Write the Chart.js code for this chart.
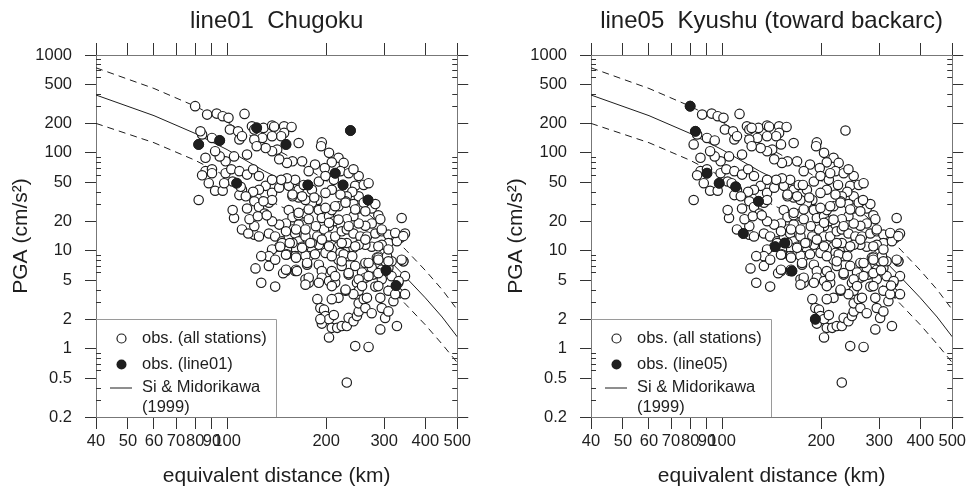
<!DOCTYPE html>
<html>
<head>
<meta charset="utf-8">
<script src="https://cdn.jsdelivr.net/npm/chart.js@4.4.0/dist/chart.umd.min.js"></script>
<style>
  html, body { margin: 0; padding: 0; background: #fff; overflow: hidden; }
  .panel { position: absolute; top: 0; width: 474px; height: 491px; }
</style>
</head>
<body>
<div class="panel" style="left:0"><canvas id="chart-line01"></canvas></div>
<div class="panel" style="left:495px"><canvas id="chart-line05"></canvas></div>
<script>
// ---- data: [equivalent distance (km), PGA (cm/s2)] ----
var allStations = [
  [87,246],[93,252],[97,237],[101,228],[113,250],[84,154],[90,142],[102,173],
  [108,166],[109,137],[119,187],[121,173],[129,180],[137,190],[139,185],[149,187],[157,184],[149,160],
  [146,148],[137,148],[128,142],[121,137],[111,148],[165,126],[194,128],[193,117],[204,100],[218,89],
  [226,79],[208,80],[198,70],[185,76],[177,65],[169,82],[158,82],[152,79],[144,86],[142,108],
  [137,104],[131,112],[123,117],[115,96],[105,92],[99,82],[95,92],[92,104],[86,89],[86,65],
  [90,68],[84,59],[88,49],[92,41],[97,41],[104,51],[99,62],[103,68],[109,65],[115,60],
  [120,68],[125,58],[131,46],[137,39],[125,42],[120,40],[111,42],[109,37],[114,36],[121,32],
  [125,28],[130,24],[134,31],[137,33],[144,44],[154,46],[161,53],[152,55],[146,53],[137,53],
  [165,42],[171,47],[181,42],[190,51],[199,58],[211,53],[221,65],[234,62],[251,58],[242,68],
  [245,46],[260,47],[269,49],[251,36],[240,40],[231,36],[208,42],[199,39],[188,33],[181,31],
  [173,33],[165,35],[158,36],[154,26],[158,22],[165,23],[173,24],[177,21],[165,18.5],[158,16.5],
  [151,19],[144,18.5],[137,20],[134,15],[140,14],[147,12.5],[154,14],[161,15],[165,12.5],[173,14],
  [169,11],[161,10.7],[152,10.3],[144,11],[137,10.3],[134,8.8],[127,8.8],[121,14.6],[125,14],[121,17.8],
  [111,16.5],[117,21],[105,21.6],[104,26],[115,27],[124,22.5],[132,23],[82,33],[190,26],[194,21.6],
  [204,22.5],[208,26],[218,28.5],[229,32],[242,30],[251,27],[260,31],[275,27],[282,30],[288,23],
  [292,21],[275,19],[263,18],[251,19],[242,22.5],[231,21],[221,18.5],[211,20],[204,17.8],[197,16.5],
  [204,14],[213,14],[223,15.8],[231,16.5],[242,15],[254,14],[266,14],[282,15],[295,15.8],[309,14.6],
  [309,12],[295,11.5],[275,11],[263,11.5],[251,11.5],[242,10.7],[231,12],[218,11],[208,10.3],[199,11],
  [190,11.5],[188,14],[181,12],[181,9.9],[177,8.8],[199,9.5],[221,9.5],[234,8.8],[285,8.5],[306,7.5],
  [343,7.8],[339,21.6],[347,15],[335,13.5],[328,12.5],
  [122,6.6],[127,4.7],[134,7],[140,4.3],[140,8.1],[151,6.2],[148,5.9],[161,6.2],[173,5.1],[177,4.7],
  [175,7.2],[161,8.8],[152,9.2],[173,8.9],[190,7.2],[194,6.2],[194,5.3],[204,4.9],[208,6.2],[213,4.7],
  [218,8.1],[223,7],[234,5.7],[226,9.2],[240,8.8],[245,7],[248,4.7],[257,6],[263,5.3],[251,3.9],
  [242,3.6],[229,3.9],[218,3.3],[208,3.2],[188,3.2],[192,2.6],[197,2.5],[199,2.15],[194,1.8],[204,2],
  [211,2.2],[208,1.63],[204,1.3],[216,1.63],[223,1.7],[231,1.7],[234,2.06],[242,1.9],[248,2.15],[251,2.4],
  [251,2.9],[260,3.2],[266,3.3],[263,2.6],[282,4.3],[295,5.1],[278,5.7],[295,6.4],[309,6.7],[316,5.5],
  [331,4.7],[347,5.5],[309,3.9],[320,3.05],[331,3.7],[347,3.6],[288,8.5],[302,7.8],[316,7.8],[343,7.8],
  [306,8.8],[275,2.3],[292,3.3],[295,2.6],[302,2.06],[309,2.4],[328,1.7],[292,1.57],[245,1.06],[269,1.04],
  [231,0.45],[208,8.8],[185,9.2],[263,7.5],[275,6.7],
  [158,37.5],[169,36],[184,35],[221,37.5],[165,24.4],[177,26.4],[199,27.4],[213,28.5],[229,31],[245,26.4],
  [263,25.3],[151,15.8],[162,16.5],[173,16.5],[186,17.8],[204,19.3],[218,20.8],[234,17.8],[295,16.5],[324,15.2],
  [343,14.1],[147,12],[158,12],[169,10.7],[179,12],[194,13],[204,11.1],[223,12],[245,11.1],[263,13],
  [288,11.1],[309,10.3],[151,9.1],[162,8.5],[175,7.5],[223,7.8],[269,7.5],[288,8.1],[309,7.8],[339,8.1],
  [151,6.4],[162,6.4],[177,5.3],[213,5.5],[234,5.9],[251,5.1],[269,5.5],[288,5.9],[332,4.9],[288,4.35],
  [257,4.35],[229,4.0],[208,4.35],[190,4.7],[173,4.5],[324,3.6]
];

var line01Stations = [
  [82,122],[95,134],[123,180],[151,122],[107,49],[176,47],[213,62],[225,47],[237,169],[268,33],[304,6.3],[326,4.4]
];

var line05Stations = [
  [80,300],[83,166],[90,62],[98,49],[110,45],[129,32],[116,15],[145,11],[155,12],[163,6.2],[192,2.0]
];

// Si & Midorikawa (1999) curve and its +/- bounds
var curveDist  = [40, 60, 80, 100, 130, 150, 200, 250, 300, 350, 400, 450, 500];
var curveMid   = [390, 240, 158, 108, 65, 51, 27, 15.5, 9, 5.3, 3.3, 2.1, 1.32];
var curveUpper = [740, 455, 300, 205, 124, 97, 52, 29.5, 17.1, 10.1, 6.3, 4.0, 2.5];
var curveLower = [200, 127, 84, 57, 34.5, 27, 14.3, 8.2, 4.8, 2.8, 1.75, 1.11, 0.72];

var xTicks = [40, 50, 60, 70, 80, 90, 100, 200, 300, 400, 500];
var yTicks = [0.2, 0.5, 1, 2, 5, 10, 20, 50, 100, 200, 500, 1000];
var yMinor = [0.3, 0.4, 0.6, 0.7, 0.8, 0.9, 3, 4, 6, 7, 8, 9, 30, 40, 60, 70, 80, 90, 300, 400, 600, 700, 800, 900];

var FONT = '"Liberation Sans", Arial, Helvetica, sans-serif';
var INK = '#1e1e1e';

function toXY(pairs) {
  return pairs.map(function(p) { return {x: p[0], y: p[1]}; });
}
function curve(vals) {
  return curveDist.map(function(d, i) { return {x: d, y: vals[i]}; });
}

// short inward minor ticks on both y sides
var minorTicks = {
  id: 'minorTicks',
  afterDraw: function(chart) {
    var ctx = chart.ctx, a = chart.chartArea, y = chart.scales.y;
    ctx.save();
    ctx.strokeStyle = '#333';
    ctx.lineWidth = 1;
    ctx.beginPath();
    yMinor.forEach(function(v) {
      var p = Math.round(y.getPixelForValue(v)) + 0.5;
      ctx.moveTo(a.left, p); ctx.lineTo(a.left + 5, p);
      ctx.moveTo(a.right, p); ctx.lineTo(a.right - 5, p);
    });
    ctx.stroke();
    ctx.restore();
  }
};

// boxed legend in the lower left corner
var boxLegend = {
  id: 'boxLegend',
  afterDraw: function(chart, args, opts) {
    var ctx = chart.ctx, a = chart.chartArea;
    var left = a.left, top = Math.round(chart.scales.y.getPixelForValue(2)) + 0.5;
    ctx.save();
    ctx.strokeStyle = '#9a9a9a';
    ctx.lineWidth = 1;
    ctx.beginPath();
    ctx.moveTo(left, top);
    ctx.lineTo(left + 180.5, top);
    ctx.lineTo(left + 180.5, a.bottom);
    ctx.stroke();

    ctx.font = '16.5px ' + FONT;
    ctx.textBaseline = 'middle';
    ctx.textAlign = 'left';

    ctx.strokeStyle = INK;
    ctx.lineWidth = 1.2;
    ctx.beginPath();
    ctx.arc(left + 25.5, top + 19, 4.5, 0, Math.PI * 2);
    ctx.fillStyle = '#fff';
    ctx.fill();
    ctx.stroke();
    ctx.fillStyle = INK;
    ctx.fillText('obs. (all stations)', left + 46, top + 19);

    ctx.beginPath();
    ctx.arc(left + 25.5, top + 45, 5, 0, Math.PI * 2);
    ctx.fill();
    ctx.fillText(opts.name, left + 46, top + 45);

    ctx.lineWidth = 1;
    ctx.beginPath();
    ctx.moveTo(left + 14, top + 68.5);
    ctx.lineTo(left + 36, top + 68.5);
    ctx.stroke();
    ctx.fillText('Si & Midorikawa', left + 46, top + 68);
    ctx.fillText('(1999)', left + 46, top + 88);
    ctx.restore();
  }
};

function makeChart(id, title, hiName, hiPoints) {
  var el = document.getElementById(id);
  // every station is drawn open; the highlighted line is drawn filled on top
  var openPoints = allStations.concat(line01Stations, line05Stations);
  return new Chart(el, {
    type: 'scatter',
    data: {
      datasets: [
        {
          label: hiName,
          data: toXY(hiPoints),
          order: 0,
          pointRadius: 5,
          pointBackgroundColor: INK,
          pointBorderColor: INK,
          pointBorderWidth: 1
        },
        {
          label: 'obs. (all stations)',
          data: toXY(openPoints),
          order: 1,
          pointRadius: 4.7,
          pointBackgroundColor: '#fff',
          pointBorderColor: INK,
          pointBorderWidth: 1.2
        },
        {
          label: 'Si & Midorikawa (1999)',
          data: curve(curveMid),
          order: 2,
          showLine: true,
          pointRadius: 0,
          borderColor: INK,
          borderWidth: 1,
          tension: 0
        },
        {
          label: 'upper',
          data: curve(curveUpper),
          order: 3,
          showLine: true,
          pointRadius: 0,
          borderColor: INK,
          borderWidth: 1,
          borderDash: [7, 5],
          tension: 0
        },
        {
          label: 'lower',
          data: curve(curveLower),
          order: 4,
          showLine: true,
          pointRadius: 0,
          borderColor: INK,
          borderWidth: 1,
          borderDash: [7, 5],
          tension: 0
        }
      ]
    },
    options: {
      responsive: true,
      maintainAspectRatio: false,
      animation: false,
      layout: { padding: 0 },
      plugins: {
        legend: { display: false },
        tooltip: { enabled: false },
        boxLegend: { name: hiName }
      },
      scales: {
        x: {
          type: 'logarithmic',
          position: 'bottom',
          min: 40, max: 500,
          afterBuildTicks: function(s) { s.ticks = xTicks.map(function(v) { return {value: v}; }); },
          afterFit: function(s) { s.height = 74; },
          ticks: {
            autoSkip: false, maxRotation: 0, minRotation: 0, padding: 3,
            color: INK, font: { family: FONT, size: 16.5 },
            callback: function(v) { return String(v); }
          },
          grid: { drawOnChartArea: false, tickLength: 12, color: '#333', lineWidth: 1 },
          border: { display: true, color: '#777', width: 1 },
          title: {
            display: true, text: 'equivalent distance (km)', color: INK,
            font: { family: FONT, size: 21 }, padding: { top: 0, bottom: 2 }
          }
        },
        x2: {
          type: 'logarithmic',
          position: 'top',
          min: 40, max: 500,
          afterBuildTicks: function(s) { s.ticks = xTicks.map(function(v) { return {value: v}; }); },
          afterFit: function(s) { s.height = 55; },
          ticks: { autoSkip: false, maxRotation: 0, callback: function() { return ''; } },
          grid: { drawOnChartArea: false, tickLength: 12, color: '#333', lineWidth: 1 },
          border: { display: true, color: '#777', width: 1 },
          title: {
            display: true, text: title, color: INK,
            font: { family: FONT, size: 24 }, padding: { top: 7, bottom: 0 }
          }
        },
        y: {
          type: 'logarithmic',
          position: 'left',
          min: 0.2, max: 1000,
          afterBuildTicks: function(s) { s.ticks = yTicks.map(function(v) { return {value: v}; }); },
          afterFit: function(s) { s.width = 96; },
          ticks: {
            autoSkip: false, padding: 13, color: INK,
            font: { family: FONT, size: 16.5 },
            callback: function(v) { return String(v); }
          },
          grid: { drawOnChartArea: false, tickLength: 11, color: '#333', lineWidth: 1 },
          border: { display: true, color: '#777', width: 1 },
          title: {
            display: true, text: 'PGA (cm/s²)', color: INK,
            font: { family: FONT, size: 21 }, padding: { top: 9, bottom: 0 }
          }
        },
        y2: {
          type: 'logarithmic',
          position: 'right',
          min: 0.2, max: 1000,
          afterBuildTicks: function(s) { s.ticks = yTicks.map(function(v) { return {value: v}; }); },
          afterFit: function(s) { s.width = 15; },
          ticks: { autoSkip: false, callback: function() { return ''; } },
          grid: { drawOnChartArea: false, tickLength: 11, color: '#333', lineWidth: 1 },
          border: { display: true, color: '#777', width: 1 }
        }
      }
    },
    plugins: [minorTicks, boxLegend]
  });
}

makeChart('chart-line01', 'line01  Chugoku', 'obs. (line01)', line01Stations);
makeChart('chart-line05', 'line05  Kyushu (toward backarc)', 'obs. (line05)', line05Stations);
</script>
</body>
</html>
